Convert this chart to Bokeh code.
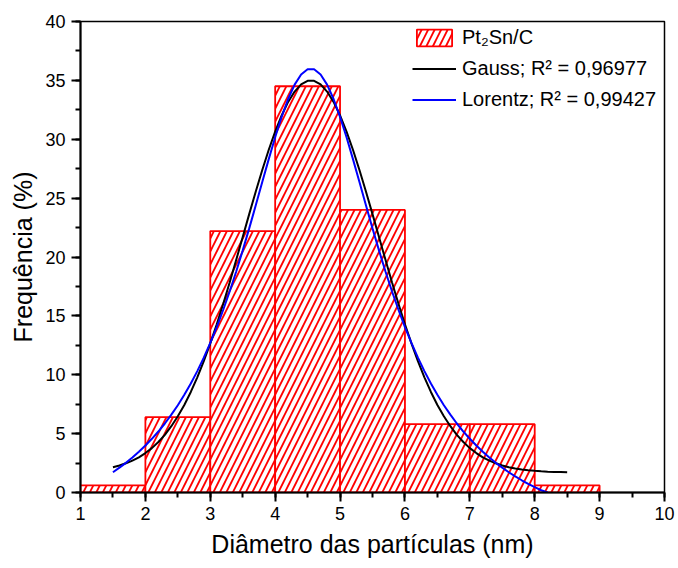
from bokeh.plotting import figure
from bokeh.models import SingleIntervalTicker, Range1d, Legend, LegendItem, ColumnDataSource
from bokeh.embed import file_html
from bokeh.resources import INLINE

# Histogram bins (nm) and frequencies (%)
bin_left = [1, 2, 3, 4, 5, 6, 7, 8]
bin_right = [2, 3, 4, 5, 6, 7, 8, 9]
freq = [0.6, 6.4, 22.2, 34.5, 24.0, 5.8, 5.8, 0.6]

# Gauss fit curve
gauss_x = [1.5, 1.6, 1.7, 1.8, 1.9, 2.0, 2.1, 2.2, 2.3, 2.4, 2.5, 2.6, 2.7, 2.8, 2.9,
           3.0, 3.1, 3.2, 3.3, 3.4, 3.5, 3.6, 3.7, 3.8, 3.9, 4.0, 4.1, 4.2, 4.3, 4.4,
           4.5, 4.6, 4.7, 4.8, 4.9, 5.0, 5.1, 5.2, 5.3, 5.4, 5.5, 5.6, 5.7, 5.8, 5.9,
           6.0, 6.1, 6.2, 6.3, 6.4, 6.5, 6.6, 6.7, 6.8, 6.9, 7.0, 7.1, 7.2, 7.3, 7.4,
           7.5, 7.6, 7.7, 7.8, 7.9, 8.0, 8.1, 8.2, 8.3, 8.4, 8.5]
gauss_y = [2.15, 2.29, 2.48, 2.71, 2.99, 3.35, 3.77, 4.29, 4.90, 5.63, 6.47, 7.43, 8.54, 9.78, 11.15,
           12.66, 14.29, 16.03, 17.86, 19.76, 21.70, 23.64, 25.54, 27.37, 29.09, 30.65, 32.02, 33.17, 34.05, 34.66,
           34.96, 34.96, 34.66, 34.05, 33.17, 32.02, 30.65, 29.09, 27.37, 25.54, 23.64, 21.70, 19.76, 17.86, 16.03,
           14.29, 12.66, 11.15, 9.78, 8.54, 7.43, 6.47, 5.63, 4.90, 4.29, 3.77, 3.35, 2.99, 2.71, 2.48,
           2.29, 2.15, 2.04, 1.95, 1.89, 1.84, 1.80, 1.77, 1.75, 1.74, 1.72]

# Lorentz fit curve
lorentz_x = [1.5, 1.6, 1.7, 1.8, 1.9, 2.0, 2.1, 2.2, 2.3, 2.4, 2.5, 2.6, 2.7, 2.8, 2.9,
             3.0, 3.1, 3.2, 3.3, 3.4, 3.5, 3.6, 3.7, 3.8, 3.9, 4.0, 4.1, 4.2, 4.3, 4.4,
             4.5, 4.6, 4.7, 4.8, 4.9, 5.0, 5.1, 5.2, 5.3, 5.4, 5.5, 5.6, 5.7, 5.8, 5.9,
             6.0, 6.1, 6.2, 6.3, 6.4, 6.5, 6.6, 6.7, 6.8, 6.9, 7.0, 7.1, 7.2, 7.3, 7.4,
             7.5, 7.6, 7.7, 7.8, 7.9, 8.0, 8.1, 8.2]
lorentz_y = [1.72, 2.11, 2.52, 2.97, 3.46, 3.99, 4.56, 5.18, 5.86, 6.61, 7.41, 8.30, 9.26, 10.31, 11.45,
             12.70, 14.05, 15.52, 17.09, 18.77, 20.56, 22.43, 24.37, 26.34, 28.29, 30.17, 31.90, 33.42, 34.64, 35.50,
             35.94, 35.94, 35.50, 34.64, 33.42, 31.90, 30.17, 28.29, 26.34, 24.37, 22.43, 20.56, 18.77, 17.09, 15.52,
             14.05, 12.70, 11.45, 10.31, 9.26, 8.30, 7.41, 6.61, 5.86, 5.18, 4.56, 3.99, 3.46, 2.97, 2.52,
             2.11, 1.72, 1.37, 1.04, 0.73, 0.45, 0.19, 0.0]

labels = ["Pt\u2082Sn/C", "Gauss; R\u00b2 = 0,96977", "Lorentz; R\u00b2 = 0,99427"]

FONT = "Liberation Sans"

p = figure(width=678, height=568, output_backend="svg", toolbar_location=None,
           x_range=Range1d(1, 10), y_range=Range1d(0, 40),
           min_border_left=80, min_border_right=14, min_border_top=21, min_border_bottom=76)

p.xgrid.visible = False
p.ygrid.visible = False
p.outline_line_color = "black"
p.outline_line_width = 1.5

src = ColumnDataSource(dict(left=bin_left, right=bin_right, top=freq, bottom=[0] * len(freq)))
bars = p.quad(left="left", right="right", top="top", bottom="bottom", source=src,
              fill_color="white", line_color="#ff0000", line_width=1.8,
              hatch_pattern="/", hatch_color="#ff0000", hatch_scale=13, hatch_weight=1.8)

g = p.line(gauss_x, gauss_y, line_color="black", line_width=2)
l = p.line(lorentz_x, lorentz_y, line_color="#0000ff", line_width=2)

for ax, interval in ((p.xaxis[0], 1), (p.yaxis[0], 5)):
    ax.ticker = SingleIntervalTicker(interval=interval, num_minor_ticks=2)
    ax.axis_line_width = 2
    ax.axis_line_color = "black"
    ax.major_tick_line_color = "black"
    ax.minor_tick_line_color = "black"
    ax.major_tick_line_width = 2
    ax.minor_tick_line_width = 2
    ax.major_tick_in = 0
    ax.major_tick_out = 9
    ax.minor_tick_in = 0
    ax.minor_tick_out = 5
    ax.major_label_text_font = FONT
    ax.major_label_text_font_size = "18px"
    ax.major_label_text_color = "black"
    ax.axis_label_text_font = FONT
    ax.axis_label_text_font_size = "25px"
    ax.axis_label_text_font_style = "normal"
    ax.axis_label_text_color = "black"

p.xaxis.axis_label = "Di\u00e2metro das part\u00edculas (nm)"
p.yaxis.axis_label = "Frequ\u00eancia (%)"
p.xaxis.major_label_standoff = 5
p.yaxis.major_label_standoff = 6
p.xaxis.axis_label_standoff = 7
p.yaxis.axis_label_standoff = 5

legend = Legend(items=[LegendItem(label=labels[0], renderers=[bars]),
                       LegendItem(label=labels[1], renderers=[g]),
                       LegendItem(label=labels[2], renderers=[l])],
                location=(332, 381), border_line_color=None, background_fill_alpha=0,
                padding=0, margin=0, spacing=8, glyph_width=44, glyph_height=21,
                label_height=21, label_standoff=6, label_text_font=FONT,
                label_text_font_size="20px", label_text_color="black")
p.add_layout(legend)

open("out.html", "w").write(file_html(p, INLINE))
